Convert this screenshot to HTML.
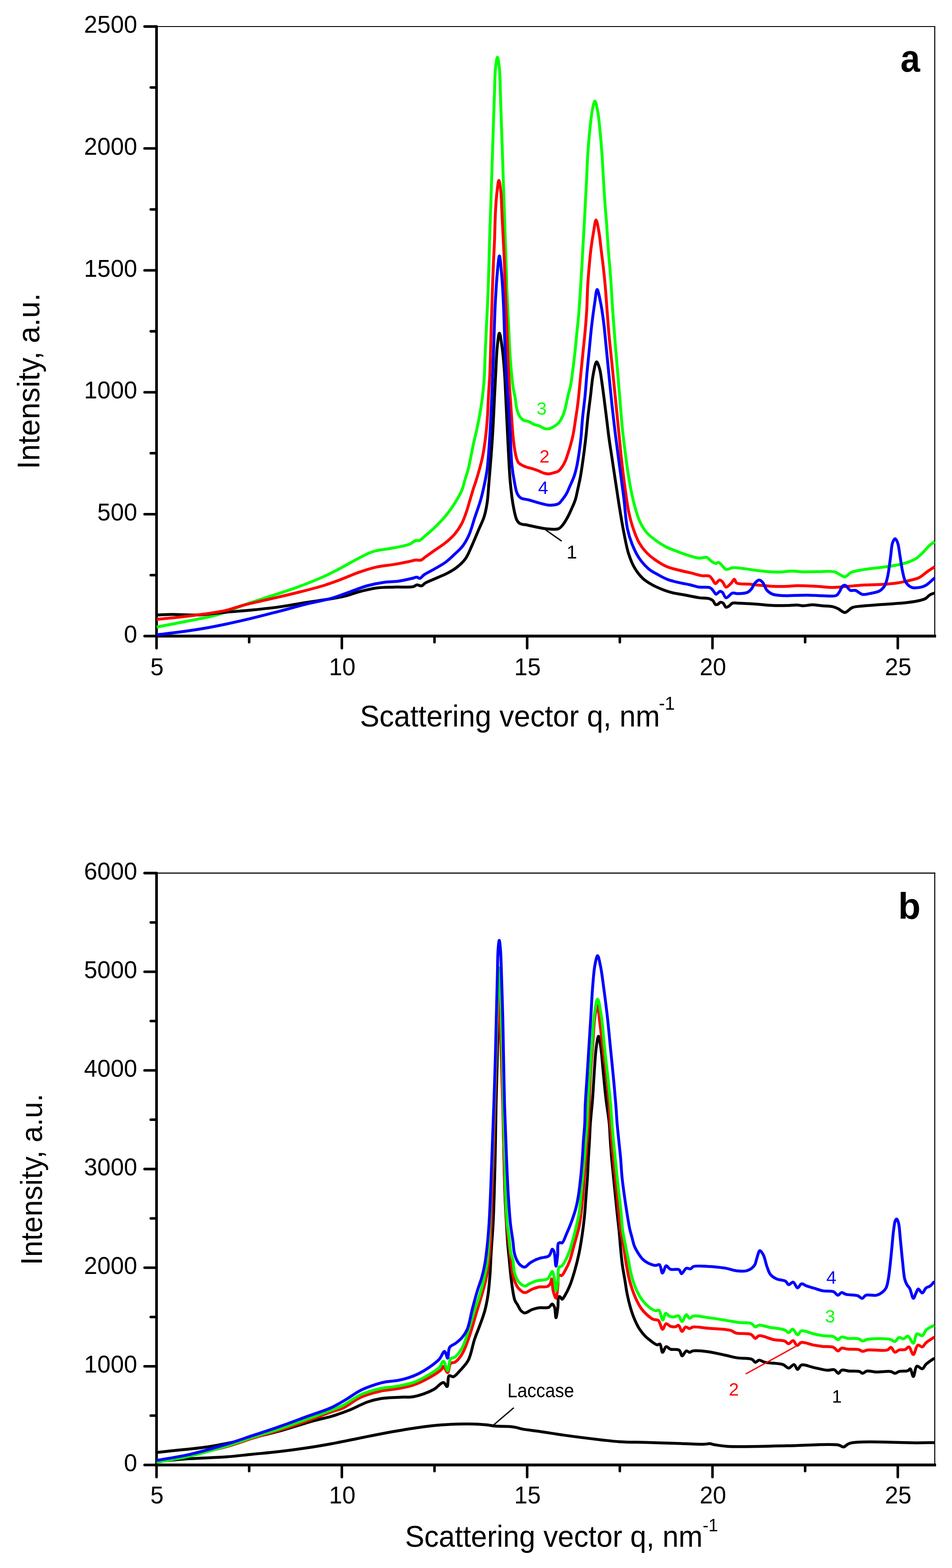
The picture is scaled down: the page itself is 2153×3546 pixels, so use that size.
<!DOCTYPE html>
<html><head><meta charset="utf-8"><title>Scattering plots</title>
<style>html,body{margin:0;padding:0;background:#fff;}svg{display:block;}</style>
</head><body>
<svg width="2153" height="3546" viewBox="0 0 2153 3546" font-family="'Liberation Sans', sans-serif">
<rect width="2153" height="3546" fill="#fff"/>
<line x1="354.0" y1="60.0" x2="2115.2" y2="60.0" stroke="#000" stroke-width="2.2"/>
<line x1="2114.0" y1="58.9" x2="2114.0" y2="1438.5" stroke="#000" stroke-width="2.3"/>
<line x1="354.0" y1="58.0" x2="354.0" y2="1441.5" stroke="#000" stroke-width="6"/>
<line x1="351.0" y1="1438.5" x2="2117.0" y2="1438.5" stroke="#000" stroke-width="6.4"/>
<line x1="327.0" y1="1438.50" x2="354.0" y2="1438.50" stroke="#000" stroke-width="5.8" stroke-linecap="round"/>
<text transform="translate(310.20,1452.80) scale(1.0000,1.0230)" font-size="54.0" text-anchor="end">0</text>
<line x1="341.0" y1="1300.65" x2="354.0" y2="1300.65" stroke="#000" stroke-width="5.8" stroke-linecap="round"/>
<line x1="327.0" y1="1162.80" x2="354.0" y2="1162.80" stroke="#000" stroke-width="5.8" stroke-linecap="round"/>
<text transform="translate(310.20,1177.10) scale(1.0000,1.0230)" font-size="54.0" text-anchor="end">500</text>
<line x1="341.0" y1="1024.95" x2="354.0" y2="1024.95" stroke="#000" stroke-width="5.8" stroke-linecap="round"/>
<line x1="327.0" y1="887.10" x2="354.0" y2="887.10" stroke="#000" stroke-width="5.8" stroke-linecap="round"/>
<text transform="translate(310.20,901.40) scale(1.0000,1.0230)" font-size="54.0" text-anchor="end">1000</text>
<line x1="341.0" y1="749.25" x2="354.0" y2="749.25" stroke="#000" stroke-width="5.8" stroke-linecap="round"/>
<line x1="327.0" y1="611.40" x2="354.0" y2="611.40" stroke="#000" stroke-width="5.8" stroke-linecap="round"/>
<text transform="translate(310.20,625.70) scale(1.0000,1.0230)" font-size="54.0" text-anchor="end">1500</text>
<line x1="341.0" y1="473.55" x2="354.0" y2="473.55" stroke="#000" stroke-width="5.8" stroke-linecap="round"/>
<line x1="327.0" y1="335.70" x2="354.0" y2="335.70" stroke="#000" stroke-width="5.8" stroke-linecap="round"/>
<text transform="translate(310.20,350.00) scale(1.0000,1.0230)" font-size="54.0" text-anchor="end">2000</text>
<line x1="341.0" y1="197.85" x2="354.0" y2="197.85" stroke="#000" stroke-width="5.8" stroke-linecap="round"/>
<line x1="327.0" y1="60.00" x2="354.0" y2="60.00" stroke="#000" stroke-width="5.8" stroke-linecap="round"/>
<text transform="translate(310.20,74.30) scale(1.0000,1.0230)" font-size="54.0" text-anchor="end">2500</text>
<line x1="354.00" y1="1438.5" x2="354.00" y2="1465.8" stroke="#000" stroke-width="5.8" stroke-linecap="round"/>
<text transform="translate(354.90,1526.80) scale(1.0000,1.0230)" font-size="54.0" text-anchor="middle">5</text>
<line x1="563.55" y1="1438.5" x2="563.55" y2="1452.3" stroke="#000" stroke-width="5.8" stroke-linecap="round"/>
<line x1="773.10" y1="1438.5" x2="773.10" y2="1465.8" stroke="#000" stroke-width="5.8" stroke-linecap="round"/>
<text transform="translate(774.00,1526.80) scale(1.0000,1.0230)" font-size="54.0" text-anchor="middle">10</text>
<line x1="982.65" y1="1438.5" x2="982.65" y2="1452.3" stroke="#000" stroke-width="5.8" stroke-linecap="round"/>
<line x1="1192.20" y1="1438.5" x2="1192.20" y2="1465.8" stroke="#000" stroke-width="5.8" stroke-linecap="round"/>
<text transform="translate(1193.10,1526.80) scale(1.0000,1.0230)" font-size="54.0" text-anchor="middle">15</text>
<line x1="1401.75" y1="1438.5" x2="1401.75" y2="1452.3" stroke="#000" stroke-width="5.8" stroke-linecap="round"/>
<line x1="1611.30" y1="1438.5" x2="1611.30" y2="1465.8" stroke="#000" stroke-width="5.8" stroke-linecap="round"/>
<text transform="translate(1612.20,1526.80) scale(1.0000,1.0230)" font-size="54.0" text-anchor="middle">20</text>
<line x1="1820.85" y1="1438.5" x2="1820.85" y2="1452.3" stroke="#000" stroke-width="5.8" stroke-linecap="round"/>
<line x1="2030.40" y1="1438.5" x2="2030.40" y2="1465.8" stroke="#000" stroke-width="5.8" stroke-linecap="round"/>
<text transform="translate(2031.30,1526.80) scale(1.0000,1.0230)" font-size="54.0" text-anchor="middle">25</text>
<path fill="none" stroke="#00ff00" stroke-width="6.5" stroke-linejoin="round" stroke-linecap="butt" d="M354.00,1418.00 C379.33,1413.17 406.14,1408.30 430.00,1403.50 C451.31,1399.21 470.49,1396.43 490.40,1390.70 C510.69,1384.86 530.49,1375.64 550.60,1368.60 C570.59,1361.61 590.66,1355.28 610.70,1348.60 C630.76,1341.91 650.95,1335.82 670.90,1328.50 C691.05,1321.10 713.15,1312.43 731.00,1304.40 C745.84,1297.73 757.71,1291.36 771.00,1284.40 C784.48,1277.34 798.52,1268.74 811.30,1262.30 C822.50,1256.65 831.86,1251.13 843.40,1247.50 C855.79,1243.60 873.06,1242.22 883.50,1240.30 C890.20,1239.07 893.86,1238.55 900.00,1237.20 C907.86,1235.48 919.49,1233.48 926.70,1230.50 C932.13,1228.26 936.07,1223.61 940.10,1222.50 C942.99,1221.70 945.28,1223.49 948.10,1222.50 C952.23,1221.05 956.70,1215.78 961.50,1211.80 C967.26,1207.03 973.57,1202.00 980.20,1195.70 C988.51,1187.80 998.88,1177.36 1007.00,1167.60 C1014.86,1158.17 1021.97,1148.20 1028.30,1138.20 C1034.38,1128.59 1040.31,1118.58 1044.40,1108.80 C1048.13,1099.88 1049.90,1090.25 1052.40,1082.10 C1054.52,1075.19 1056.50,1070.15 1058.40,1063.00 C1060.76,1054.09 1062.88,1042.75 1065.00,1032.60 C1067.12,1022.45 1068.90,1012.24 1071.10,1002.10 C1073.30,991.94 1076.00,981.85 1078.20,971.70 C1080.40,961.58 1082.45,951.45 1084.30,941.30 C1086.15,931.18 1087.87,921.06 1089.30,910.90 C1090.73,900.76 1091.88,890.57 1092.90,880.40 C1093.91,870.27 1094.76,860.81 1095.40,850.00 C1096.12,837.68 1096.17,825.90 1096.80,810.40 C1097.70,788.33 1099.27,756.93 1100.50,730.20 C1101.73,703.47 1103.15,678.45 1104.20,650.00 C1105.40,617.68 1106.14,577.17 1107.10,546.40 C1107.87,521.67 1108.65,501.81 1109.40,479.50 C1110.15,457.18 1110.87,434.83 1111.60,412.50 C1112.33,390.17 1113.07,367.82 1113.80,345.50 C1114.53,323.19 1115.25,300.91 1116.00,278.60 C1116.75,256.27 1117.51,232.91 1118.30,211.60 C1119.02,192.15 1118.92,170.90 1120.50,155.80 C1121.59,145.36 1123.50,129.50 1125.00,129.50 C1126.50,129.50 1128.41,145.36 1129.50,155.80 C1131.08,170.90 1131.00,192.15 1131.70,211.60 C1132.47,232.91 1133.15,256.28 1133.90,278.60 C1134.65,300.91 1135.45,323.19 1136.20,345.50 C1136.95,367.82 1137.67,390.17 1138.40,412.50 C1139.13,434.83 1139.85,457.18 1140.60,479.50 C1141.35,501.81 1142.15,524.09 1142.90,546.40 C1143.65,568.72 1144.53,594.42 1145.10,613.40 C1145.52,627.43 1145.55,635.44 1146.10,650.00 C1146.92,671.56 1148.68,703.47 1150.00,730.20 C1151.32,756.93 1152.09,784.90 1154.00,810.40 C1155.75,833.73 1158.26,860.93 1160.70,877.30 C1162.13,886.91 1163.86,892.22 1165.20,900.00 C1166.61,908.16 1166.95,917.81 1168.90,925.20 C1170.51,931.32 1172.35,937.13 1175.20,941.50 C1177.60,945.19 1180.68,948.42 1184.00,950.30 C1187.04,952.02 1190.48,951.46 1194.10,952.80 C1198.72,954.51 1204.50,958.61 1209.20,960.40 C1213.02,961.86 1216.36,961.92 1220.00,963.30 C1224.02,964.83 1228.01,968.52 1232.20,969.40 C1236.16,970.23 1240.47,969.92 1244.40,968.80 C1248.58,967.61 1253.07,964.45 1256.50,962.10 C1259.35,960.15 1261.56,958.61 1263.80,956.00 C1266.55,952.80 1269.03,948.24 1271.20,943.80 C1273.56,938.97 1275.31,934.32 1277.20,928.00 C1279.89,919.00 1282.22,904.71 1284.60,894.60 C1286.59,886.15 1288.85,879.16 1290.40,871.40 C1291.94,863.73 1292.65,857.33 1293.90,848.30 C1295.67,835.53 1297.97,817.44 1299.70,802.00 C1301.43,786.58 1302.77,771.13 1304.30,755.70 C1305.83,740.27 1307.43,727.10 1308.90,709.40 C1310.87,685.69 1312.90,651.69 1314.50,626.10 C1315.86,604.24 1316.85,585.58 1318.00,565.30 C1319.15,545.01 1320.34,523.77 1321.40,504.40 C1322.36,486.73 1323.22,470.61 1324.10,453.70 C1324.98,436.78 1325.87,419.83 1326.70,402.90 C1327.53,385.99 1328.02,369.09 1329.10,352.20 C1330.18,335.29 1331.50,318.39 1333.20,301.50 C1334.90,284.56 1336.66,264.06 1339.30,250.70 C1341.06,241.77 1343.37,228.70 1345.40,228.70 C1347.43,228.70 1349.75,241.77 1351.50,250.70 C1354.13,264.06 1355.82,284.56 1357.50,301.50 C1359.18,318.39 1360.42,335.29 1361.60,352.20 C1362.78,369.09 1363.58,385.99 1364.60,402.90 C1365.62,419.83 1366.50,436.78 1367.70,453.70 C1368.90,470.61 1370.50,486.72 1371.80,504.40 C1373.22,523.77 1374.28,545.02 1375.80,565.30 C1377.32,585.58 1379.35,604.84 1380.90,626.10 C1382.61,649.52 1383.84,675.98 1385.50,700.00 C1387.08,722.89 1388.82,744.68 1390.60,767.00 C1392.38,789.31 1394.33,811.59 1396.20,833.90 C1398.07,856.22 1399.93,878.57 1401.80,900.90 C1403.67,923.23 1405.23,946.61 1407.40,967.90 C1409.38,987.37 1411.69,1005.11 1414.10,1023.70 C1416.52,1042.31 1418.76,1060.95 1421.90,1079.50 C1425.06,1098.15 1428.59,1118.05 1433.00,1135.30 C1436.91,1150.60 1440.90,1165.80 1446.40,1178.00 C1450.93,1188.05 1455.69,1196.45 1462.10,1204.00 C1468.40,1211.41 1476.76,1217.39 1484.40,1223.00 C1491.65,1228.32 1499.09,1233.11 1506.70,1237.00 C1513.97,1240.71 1521.94,1243.23 1529.00,1246.00 C1535.34,1248.49 1540.03,1250.60 1547.10,1252.90 C1556.74,1256.03 1572.37,1261.61 1581.80,1262.30 C1588.13,1262.77 1593.31,1259.08 1597.90,1260.40 C1602.12,1261.61 1604.90,1266.64 1608.60,1269.00 C1612.05,1271.20 1616.35,1274.29 1619.30,1274.30 C1621.37,1274.30 1622.73,1271.48 1624.60,1271.70 C1627.08,1271.99 1629.89,1275.83 1632.60,1278.30 C1635.67,1281.09 1638.08,1286.62 1642.00,1287.70 C1646.36,1288.91 1652.16,1284.15 1658.00,1283.70 C1664.87,1283.17 1672.07,1284.82 1680.70,1285.80 C1692.21,1287.10 1707.49,1289.85 1720.90,1291.20 C1734.25,1292.54 1748.56,1293.99 1761.00,1293.90 C1771.84,1293.82 1782.00,1291.41 1791.40,1291.40 C1799.52,1291.39 1805.76,1292.93 1814.10,1293.20 C1824.31,1293.53 1836.48,1292.71 1848.20,1292.70 C1860.67,1292.69 1877.38,1290.93 1886.80,1293.20 C1892.73,1294.63 1896.25,1298.01 1900.50,1300.00 C1904.13,1301.70 1907.09,1304.84 1910.70,1304.50 C1915.29,1304.07 1919.64,1296.88 1925.50,1294.30 C1932.50,1291.22 1941.49,1290.22 1950.50,1288.60 C1960.92,1286.73 1973.16,1285.62 1984.50,1284.10 C1995.86,1282.58 2007.89,1281.32 2018.60,1279.50 C2028.24,1277.86 2037.12,1276.58 2045.90,1273.90 C2054.55,1271.26 2063.79,1267.95 2070.90,1263.60 C2077.15,1259.77 2081.63,1254.94 2086.80,1250.00 C2092.25,1244.79 2097.63,1237.42 2102.70,1233.00 C2106.61,1229.59 2110.23,1227.67 2114.00,1225.00"/>
<path fill="none" stroke="#000" stroke-width="6.5" stroke-linejoin="round" stroke-linecap="butt" d="M354.00,1390.70 C366.00,1390.30 376.47,1389.59 390.00,1389.50 C407.46,1389.38 430.02,1391.50 450.00,1390.70 C470.02,1389.90 489.94,1386.58 510.00,1384.70 C530.14,1382.81 550.45,1381.42 570.60,1379.40 C590.71,1377.38 610.77,1375.39 630.80,1372.60 C650.90,1369.80 670.94,1365.74 691.00,1362.60 C711.00,1359.47 734.15,1356.72 751.00,1353.80 C763.36,1351.66 772.76,1350.04 783.00,1347.40 C792.72,1344.89 800.77,1341.25 811.00,1338.50 C823.08,1335.26 837.55,1331.50 851.00,1329.70 C864.38,1327.91 877.77,1328.20 891.50,1327.70 C905.69,1327.19 926.26,1328.82 934.80,1326.70 C938.68,1325.74 939.87,1323.08 942.80,1322.70 C946.04,1322.27 950.34,1325.63 953.50,1324.90 C956.54,1324.19 957.95,1320.82 961.50,1318.70 C967.23,1315.28 977.37,1311.68 985.60,1308.00 C994.28,1304.12 1004.03,1300.42 1012.30,1296.00 C1019.98,1291.90 1027.08,1287.87 1033.70,1282.60 C1040.47,1277.21 1047.15,1271.17 1052.40,1263.90 C1057.98,1256.17 1061.29,1246.93 1065.80,1237.20 C1071.07,1225.83 1076.73,1211.72 1081.80,1199.70 C1086.49,1188.59 1091.83,1178.45 1095.20,1167.60 C1098.47,1157.08 1100.20,1147.06 1101.90,1135.60 C1103.83,1122.56 1104.50,1106.32 1105.60,1093.40 C1106.53,1082.44 1107.27,1073.13 1108.10,1063.00 C1108.93,1052.87 1109.71,1044.48 1110.60,1032.60 C1111.86,1015.79 1113.52,992.00 1114.70,971.70 C1115.88,951.43 1116.68,931.17 1117.70,910.90 C1118.72,890.61 1119.68,870.73 1120.80,850.00 C1121.97,828.37 1122.68,801.47 1124.60,783.70 C1125.90,771.64 1127.62,753.53 1129.40,753.50 C1131.19,753.47 1133.60,772.16 1135.30,783.70 C1137.54,798.96 1139.13,817.55 1140.60,837.20 C1142.40,861.22 1143.50,893.36 1144.70,917.40 C1145.68,937.03 1146.33,951.33 1147.30,970.90 C1148.48,994.70 1150.01,1028.09 1151.30,1050.00 C1152.22,1065.59 1152.63,1075.71 1154.00,1090.00 C1155.59,1106.58 1157.81,1128.09 1160.70,1143.60 C1162.96,1155.74 1165.19,1168.81 1168.70,1175.70 C1170.67,1179.57 1172.16,1181.75 1175.40,1183.70 C1179.77,1186.34 1186.61,1186.17 1194.00,1187.70 C1204.84,1189.94 1221.91,1194.44 1234.20,1195.70 C1244.43,1196.74 1255.90,1198.37 1262.60,1195.90 C1267.13,1194.23 1269.29,1190.99 1272.40,1187.40 C1276.28,1182.92 1279.94,1176.46 1283.30,1170.40 C1286.88,1163.95 1290.07,1156.55 1293.10,1149.70 C1296.02,1143.09 1298.93,1137.12 1301.20,1130.00 C1303.74,1122.03 1305.30,1112.53 1307.20,1104.00 C1309.03,1095.77 1310.68,1089.12 1312.40,1079.70 C1314.76,1066.76 1317.28,1048.85 1319.40,1033.40 C1321.51,1017.98 1323.37,1002.53 1325.10,987.10 C1326.83,971.70 1328.05,956.30 1329.80,940.90 C1331.55,925.46 1333.68,910.03 1335.60,894.60 C1337.52,879.17 1338.65,861.98 1341.30,848.30 C1343.46,837.14 1346.43,818.51 1349.30,818.30 C1351.42,818.15 1354.15,827.58 1356.00,833.90 C1358.62,842.83 1359.92,856.22 1361.60,867.40 C1363.28,878.55 1364.54,888.93 1366.10,900.90 C1367.89,914.70 1369.85,930.62 1371.70,945.50 C1373.55,960.39 1375.17,975.32 1377.20,990.20 C1379.23,1005.09 1381.67,1019.92 1383.90,1034.80 C1386.13,1049.69 1388.37,1064.61 1390.60,1079.50 C1392.83,1094.38 1395.13,1110.04 1397.30,1124.10 C1399.25,1136.72 1400.90,1147.47 1403.00,1160.00 C1405.32,1173.81 1407.74,1188.67 1410.70,1203.50 C1413.83,1219.16 1416.88,1237.36 1421.40,1251.60 C1425.20,1263.57 1429.20,1274.10 1434.80,1283.70 C1440.04,1292.69 1446.49,1301.18 1453.50,1307.80 C1459.97,1313.91 1467.16,1318.15 1474.90,1322.50 C1483.12,1327.12 1493.41,1331.38 1501.60,1334.50 C1508.31,1337.05 1513.45,1338.71 1520.30,1340.40 C1528.37,1342.39 1537.60,1343.43 1547.10,1345.20 C1557.93,1347.21 1571.59,1350.49 1581.80,1351.90 C1589.76,1353.00 1597.64,1352.09 1603.20,1353.70 C1607.11,1354.83 1610.13,1356.32 1612.60,1358.60 C1615.00,1360.82 1615.74,1366.03 1617.90,1367.10 C1619.49,1367.89 1621.54,1367.28 1623.30,1366.60 C1625.39,1365.79 1627.29,1362.36 1629.40,1362.00 C1631.30,1361.68 1633.47,1362.56 1635.30,1363.90 C1637.79,1365.72 1639.44,1372.55 1642.00,1373.30 C1644.03,1373.89 1646.47,1371.94 1648.70,1370.60 C1651.38,1369.00 1653.61,1365.02 1656.70,1363.90 C1659.83,1362.76 1662.70,1363.78 1667.40,1363.90 C1676.51,1364.14 1694.14,1365.10 1707.50,1366.00 C1720.87,1366.90 1734.94,1368.78 1747.60,1369.30 C1758.97,1369.77 1770.16,1369.54 1780.00,1369.30 C1788.24,1369.10 1796.09,1367.93 1802.70,1368.20 C1807.85,1368.41 1811.38,1369.95 1816.40,1370.00 C1822.52,1370.06 1829.82,1367.74 1836.80,1367.70 C1844.16,1367.66 1851.75,1369.25 1859.50,1370.00 C1867.63,1370.79 1877.87,1370.72 1884.50,1372.30 C1889.13,1373.40 1891.92,1374.90 1895.90,1376.80 C1900.59,1379.04 1905.65,1385.38 1910.70,1385.20 C1916.23,1385.01 1921.31,1376.36 1927.70,1373.90 C1934.49,1371.29 1942.13,1371.47 1950.50,1370.50 C1960.69,1369.32 1973.15,1368.53 1984.50,1367.70 C1995.85,1366.87 2007.24,1366.37 2018.60,1365.50 C2029.97,1364.63 2041.99,1363.85 2052.70,1362.50 C2062.33,1361.28 2072.53,1359.87 2080.00,1358.00 C2085.38,1356.66 2089.70,1355.63 2093.60,1353.40 C2097.17,1351.35 2099.31,1347.58 2102.70,1345.50 C2106.11,1343.41 2110.23,1342.43 2114.00,1340.90"/>
<path fill="none" stroke="#ff0000" stroke-width="6.5" stroke-linejoin="round" stroke-linecap="butt" d="M354.00,1400.70 C379.33,1398.03 404.38,1395.98 430.00,1392.70 C456.36,1389.32 487.95,1385.50 510.00,1380.60 C525.95,1377.05 535.68,1372.54 550.60,1368.60 C568.61,1363.84 590.66,1359.28 610.70,1354.60 C630.76,1349.91 650.88,1345.51 670.90,1340.50 C690.98,1335.48 713.10,1330.03 731.00,1324.50 C745.79,1319.93 757.69,1315.39 771.00,1310.40 C784.46,1305.36 797.78,1299.10 811.30,1294.40 C824.58,1289.79 837.93,1285.41 851.40,1282.40 C864.66,1279.44 878.90,1278.54 891.50,1276.40 C902.81,1274.48 914.68,1272.15 923.60,1270.30 C930.02,1268.97 935.01,1267.16 940.10,1266.60 C944.39,1266.12 948.51,1267.75 952.10,1266.60 C955.62,1265.47 957.84,1262.52 961.50,1259.90 C966.67,1256.20 973.39,1251.31 980.20,1246.50 C988.32,1240.76 998.80,1234.45 1007.00,1227.80 C1014.75,1221.51 1022.06,1215.17 1028.30,1207.80 C1034.52,1200.46 1039.94,1192.19 1044.40,1183.70 C1048.84,1175.25 1051.87,1165.97 1055.00,1157.00 C1058.09,1148.14 1060.41,1139.13 1063.10,1130.20 C1065.78,1121.29 1068.92,1110.26 1071.10,1103.50 C1072.45,1099.31 1073.21,1097.69 1074.60,1093.40 C1077.00,1086.01 1080.99,1073.17 1083.80,1063.00 C1086.59,1052.90 1089.30,1042.79 1091.40,1032.60 C1093.49,1022.48 1094.96,1012.27 1096.40,1002.10 C1097.83,991.97 1098.98,981.84 1100.00,971.70 C1101.02,961.58 1101.83,951.44 1102.50,941.30 C1103.17,931.17 1103.48,921.04 1104.00,910.90 C1104.52,900.74 1105.00,890.56 1105.60,880.40 C1106.20,870.26 1106.95,863.49 1107.60,850.00 C1108.88,823.25 1110.08,766.14 1111.20,730.20 C1112.12,700.79 1112.92,674.68 1113.80,650.00 C1114.56,628.83 1115.29,609.29 1116.10,591.00 C1116.80,575.09 1117.63,562.77 1118.30,546.40 C1119.12,526.36 1119.41,499.55 1120.50,479.50 C1121.39,463.09 1122.34,447.78 1123.90,434.80 C1125.11,424.70 1126.82,408.00 1128.30,408.00 C1129.78,408.00 1131.71,424.69 1132.80,434.80 C1134.20,447.77 1134.18,463.10 1135.00,479.50 C1136.00,499.56 1137.40,526.35 1138.40,546.40 C1139.22,562.77 1139.95,575.09 1140.60,591.00 C1141.35,609.29 1141.70,628.83 1142.50,650.00 C1143.44,674.69 1144.84,701.54 1146.00,730.20 C1147.34,763.30 1148.29,804.11 1150.00,837.20 C1151.48,865.87 1153.40,890.69 1155.30,917.40 C1157.20,944.09 1158.79,975.95 1161.40,997.40 C1163.17,1011.97 1165.02,1025.08 1167.50,1033.90 C1168.98,1039.16 1169.76,1042.85 1172.40,1046.10 C1175.03,1049.35 1179.65,1051.52 1183.30,1053.40 C1186.56,1055.08 1189.81,1056.04 1193.10,1057.10 C1196.34,1058.14 1199.30,1058.62 1202.90,1059.70 C1207.41,1061.06 1213.32,1062.99 1218.00,1064.80 C1222.19,1066.42 1225.79,1068.75 1229.70,1069.90 C1233.36,1070.98 1236.86,1071.81 1240.70,1071.70 C1244.96,1071.58 1250.17,1069.85 1254.10,1068.70 C1257.29,1067.77 1259.97,1067.39 1262.60,1065.60 C1265.75,1063.45 1268.63,1059.56 1271.20,1055.90 C1273.99,1051.93 1276.35,1047.33 1278.50,1042.50 C1280.84,1037.23 1282.65,1031.00 1284.50,1025.40 C1286.27,1020.05 1287.82,1015.08 1289.40,1009.60 C1291.09,1003.74 1292.88,997.42 1294.30,991.30 C1295.71,985.25 1296.76,979.62 1297.90,973.10 C1299.21,965.58 1300.37,956.82 1301.60,948.70 C1302.83,940.59 1304.18,932.52 1305.30,924.40 C1306.42,916.28 1307.28,909.32 1308.30,900.00 C1309.66,887.55 1310.98,871.76 1312.50,856.30 C1314.22,838.81 1316.23,819.02 1318.10,800.40 C1319.97,781.79 1322.17,762.17 1323.70,744.60 C1325.07,728.91 1326.12,715.56 1327.00,700.00 C1327.96,682.96 1328.14,663.02 1329.10,646.40 C1329.94,631.92 1331.02,619.32 1332.20,605.80 C1333.38,592.29 1334.52,578.79 1336.20,565.30 C1337.89,551.75 1340.12,536.85 1342.30,524.70 C1344.10,514.70 1345.97,497.53 1348.00,497.50 C1350.04,497.47 1352.68,514.67 1354.50,524.70 C1356.70,536.83 1357.92,551.77 1359.60,565.30 C1361.28,578.81 1363.08,592.28 1364.60,605.80 C1366.12,619.32 1367.42,631.92 1368.70,646.40 C1370.17,663.02 1371.40,681.95 1372.80,700.00 C1374.23,718.41 1375.53,737.21 1377.20,755.80 C1378.87,774.41 1380.93,793.00 1382.80,811.60 C1384.67,830.20 1386.53,848.80 1388.40,867.40 C1390.27,886.00 1392.13,904.60 1394.00,923.20 C1395.87,941.80 1397.75,960.40 1399.60,979.00 C1401.45,997.60 1403.07,1016.21 1405.10,1034.80 C1407.13,1053.41 1409.17,1071.17 1411.80,1090.60 C1414.69,1111.93 1417.91,1138.52 1421.90,1157.60 C1424.94,1172.12 1428.00,1183.53 1432.10,1195.50 C1435.95,1206.75 1440.18,1218.19 1445.50,1227.50 C1450.17,1235.67 1455.58,1242.56 1461.50,1248.90 C1467.19,1255.00 1473.16,1259.93 1480.20,1265.00 C1488.12,1270.71 1497.82,1276.96 1507.00,1281.00 C1515.68,1284.82 1524.76,1286.63 1533.70,1289.00 C1542.56,1291.35 1551.50,1293.05 1560.40,1295.20 C1569.33,1297.35 1579.19,1300.68 1587.20,1301.90 C1593.55,1302.87 1600.34,1300.89 1604.50,1302.90 C1607.67,1304.43 1609.04,1307.70 1611.20,1310.40 C1613.52,1313.30 1615.27,1319.47 1617.90,1319.80 C1620.61,1320.14 1624.35,1312.05 1627.30,1311.80 C1629.65,1311.60 1631.88,1313.78 1634.00,1315.80 C1636.88,1318.54 1638.73,1327.28 1642.00,1327.80 C1645.36,1328.34 1650.73,1321.66 1654.00,1318.40 C1656.75,1315.65 1658.67,1309.79 1660.70,1309.90 C1662.65,1310.01 1662.81,1316.42 1666.00,1318.40 C1671.36,1321.72 1684.85,1320.19 1694.10,1321.10 C1703.14,1321.99 1711.97,1323.00 1720.90,1323.80 C1729.80,1324.60 1738.26,1325.50 1747.60,1325.90 C1757.87,1326.34 1770.16,1326.42 1780.00,1326.10 C1788.24,1325.84 1793.83,1324.66 1802.70,1324.50 C1815.25,1324.28 1834.13,1325.38 1848.20,1326.10 C1860.39,1326.73 1870.93,1328.40 1882.30,1328.40 C1893.67,1328.40 1905.04,1326.97 1916.40,1326.10 C1927.77,1325.23 1938.31,1323.93 1950.50,1323.20 C1964.54,1322.36 1981.86,1322.55 1995.90,1321.60 C2008.09,1320.78 2019.82,1319.73 2030.00,1318.20 C2038.37,1316.94 2044.98,1315.43 2052.70,1313.60 C2060.86,1311.66 2070.08,1310.44 2077.70,1306.80 C2085.23,1303.21 2091.76,1296.40 2098.20,1292.00 C2103.76,1288.20 2108.73,1285.20 2114.00,1281.80"/>
<path fill="none" stroke="#0000ff" stroke-width="6.5" stroke-linejoin="round" stroke-linecap="butt" d="M354.00,1435.50 C372.67,1433.27 391.01,1431.40 410.00,1428.80 C429.75,1426.10 448.82,1423.40 470.30,1419.50 C495.21,1414.98 523.90,1408.84 550.60,1402.70 C577.40,1396.54 606.00,1389.00 630.80,1382.60 C652.32,1377.04 670.91,1371.61 691.00,1366.60 C710.98,1361.62 733.12,1357.80 751.00,1352.60 C765.87,1348.27 777.81,1343.19 791.20,1338.50 C804.57,1333.82 817.80,1328.18 831.30,1324.50 C844.57,1320.88 859.20,1318.15 871.50,1316.50 C881.77,1315.12 890.27,1315.82 900.00,1314.50 C910.40,1313.08 924.18,1309.77 932.00,1308.00 C936.57,1306.97 939.66,1305.08 942.80,1305.30 C945.33,1305.48 947.20,1308.38 949.50,1308.00 C952.49,1307.51 954.89,1302.73 958.80,1300.00 C964.32,1296.13 972.70,1292.34 980.20,1288.00 C988.66,1283.10 998.83,1277.97 1007.00,1272.00 C1014.79,1266.31 1021.65,1259.45 1028.30,1253.20 C1034.49,1247.38 1040.53,1242.53 1045.70,1235.80 C1051.35,1228.45 1056.04,1220.08 1060.40,1210.40 C1065.64,1198.78 1069.33,1183.67 1073.80,1170.30 C1078.27,1156.93 1083.45,1143.36 1087.20,1130.20 C1090.74,1117.75 1093.44,1105.11 1095.90,1093.40 C1098.13,1082.81 1100.06,1073.16 1101.50,1063.00 C1102.93,1052.90 1103.51,1044.48 1104.50,1032.60 C1105.89,1015.80 1107.42,992.00 1108.60,971.70 C1109.78,951.43 1110.67,931.18 1111.60,910.90 C1112.53,890.61 1113.38,870.73 1114.20,850.00 C1115.05,828.37 1115.79,806.85 1116.60,783.70 C1117.49,758.24 1118.24,727.53 1119.30,703.50 C1120.16,683.86 1121.15,666.14 1122.20,650.00 C1123.07,636.64 1123.76,625.42 1125.00,613.40 C1126.21,601.66 1128.02,578.70 1129.50,578.70 C1130.98,578.70 1132.72,601.66 1133.90,613.40 C1135.10,625.42 1135.77,636.64 1136.60,650.00 C1137.60,666.14 1138.47,683.86 1139.30,703.50 C1140.31,727.53 1140.88,756.97 1142.00,783.70 C1143.12,810.44 1144.50,839.87 1146.00,863.90 C1147.22,883.54 1148.73,898.57 1150.00,917.40 C1151.42,938.43 1152.75,962.02 1154.00,984.20 C1155.24,1006.21 1155.58,1030.82 1157.50,1050.00 C1159.00,1065.02 1161.05,1078.05 1163.40,1090.00 C1165.34,1099.88 1166.73,1110.41 1170.00,1116.80 C1172.19,1121.07 1174.43,1123.98 1178.00,1126.20 C1182.13,1128.76 1187.31,1128.48 1194.00,1130.20 C1205.32,1133.10 1228.57,1140.93 1239.60,1142.20 C1245.72,1142.91 1249.80,1142.53 1254.10,1141.80 C1257.71,1141.19 1260.89,1140.59 1263.80,1138.70 C1267.08,1136.56 1269.64,1132.51 1272.40,1129.00 C1275.36,1125.25 1278.35,1121.26 1280.90,1116.80 C1283.67,1111.96 1285.60,1106.79 1288.20,1100.90 C1291.41,1093.63 1295.82,1084.52 1298.60,1076.40 C1301.21,1068.76 1302.93,1061.23 1304.60,1053.60 C1306.25,1046.06 1307.42,1038.48 1308.60,1030.90 C1309.78,1023.34 1310.75,1015.77 1311.70,1008.20 C1312.65,1000.64 1313.58,993.08 1314.30,985.50 C1315.02,977.92 1315.40,970.11 1316.00,962.70 C1316.57,955.63 1316.97,950.31 1317.80,942.00 C1319.06,929.40 1321.60,910.73 1323.20,894.50 C1324.88,877.47 1326.00,859.56 1327.60,842.10 C1329.20,824.63 1331.07,807.17 1332.80,789.70 C1334.53,772.23 1335.97,754.75 1338.00,737.30 C1340.03,719.82 1342.65,699.94 1345.00,684.90 C1346.79,673.46 1348.17,654.89 1350.40,654.80 C1352.71,654.71 1356.32,674.72 1358.70,686.30 C1361.55,700.18 1363.66,717.14 1365.60,732.60 C1367.53,748.01 1368.75,763.47 1370.30,778.90 C1371.85,794.31 1373.37,809.69 1374.90,825.10 C1376.43,840.52 1377.95,855.97 1379.50,871.40 C1381.05,886.83 1382.35,900.72 1384.20,917.70 C1386.47,938.51 1389.42,963.97 1392.30,987.10 C1395.19,1010.27 1398.42,1033.44 1401.50,1056.60 C1404.58,1079.74 1407.90,1102.85 1410.80,1126.00 C1413.70,1149.12 1414.95,1176.36 1418.90,1195.40 C1421.75,1209.13 1424.95,1219.02 1429.40,1230.20 C1433.83,1241.31 1439.04,1252.74 1445.50,1262.30 C1451.62,1271.35 1459.19,1279.97 1466.80,1286.40 C1473.53,1292.09 1480.97,1295.66 1488.20,1299.70 C1495.24,1303.64 1502.11,1307.52 1509.60,1310.40 C1517.26,1313.35 1525.42,1315.12 1533.70,1317.10 C1542.34,1319.17 1552.01,1320.61 1560.40,1322.50 C1567.95,1324.20 1574.40,1326.69 1581.80,1327.80 C1589.54,1328.96 1600.33,1326.59 1605.90,1329.10 C1609.73,1330.82 1611.55,1334.57 1613.90,1337.20 C1615.94,1339.49 1617.09,1343.60 1619.30,1343.90 C1621.85,1344.24 1625.85,1337.44 1628.60,1337.20 C1630.59,1337.03 1632.23,1338.26 1634.00,1339.80 C1636.75,1342.20 1638.53,1351.27 1642.00,1351.90 C1645.89,1352.60 1651.95,1342.43 1656.70,1341.20 C1660.36,1340.25 1663.17,1342.49 1667.40,1342.50 C1673.56,1342.51 1684.44,1342.27 1690.10,1339.80 C1694.26,1337.98 1696.73,1335.08 1699.50,1331.80 C1702.62,1328.11 1704.32,1321.85 1707.50,1318.40 C1710.22,1315.45 1713.79,1311.86 1716.80,1311.80 C1719.57,1311.75 1722.42,1314.39 1724.90,1317.10 C1728.44,1320.97 1730.16,1329.94 1734.20,1334.50 C1737.88,1338.66 1742.05,1341.78 1747.60,1343.90 C1754.72,1346.62 1765.47,1346.68 1774.30,1347.10 C1782.93,1347.51 1791.45,1346.70 1800.00,1346.50 C1808.52,1346.30 1816.39,1345.82 1825.50,1345.90 C1836.02,1345.99 1848.35,1347.19 1859.50,1347.30 C1870.30,1347.40 1885.01,1349.64 1891.40,1346.60 C1895.06,1344.86 1895.99,1341.73 1898.20,1338.60 C1900.91,1334.77 1903.16,1327.09 1906.10,1325.00 C1907.89,1323.73 1909.76,1323.28 1911.80,1323.90 C1915.20,1324.93 1919.03,1333.48 1923.20,1335.20 C1926.70,1336.64 1930.55,1334.16 1934.50,1335.20 C1939.54,1336.53 1944.80,1343.17 1950.50,1344.30 C1956.17,1345.42 1962.42,1343.23 1968.60,1342.00 C1975.27,1340.67 1983.59,1339.60 1989.10,1336.40 C1993.90,1333.61 1997.55,1329.78 2000.50,1325.00 C2003.91,1319.47 2005.32,1312.78 2007.30,1304.50 C2010.18,1292.43 2012.09,1272.89 2014.10,1259.10 C2015.78,1247.56 2015.97,1234.51 2018.60,1227.30 C2020.12,1223.13 2022.40,1218.20 2024.30,1218.20 C2026.20,1218.20 2028.39,1223.14 2030.00,1227.30 C2032.79,1234.51 2033.83,1248.31 2035.70,1259.10 C2037.63,1270.26 2039.04,1283.05 2041.40,1293.20 C2043.35,1301.60 2044.41,1309.85 2048.20,1315.90 C2051.55,1321.25 2056.47,1326.32 2061.80,1328.40 C2067.09,1330.46 2074.44,1329.30 2080.00,1328.40 C2084.93,1327.61 2088.87,1326.53 2093.60,1323.90 C2100.04,1320.31 2107.20,1312.50 2114.00,1306.80"/>
<text transform="translate(2036.60,162.00) scale(0.9600,1.0400)" font-size="83" font-weight="bold">a</text>
<text transform="translate(814.00,1642.60) scale(1.0000,1.0400)" font-size="66.0">Scattering vector q, nm</text>
<text transform="translate(1490.00,1605.10) scale(1.0000,1.0400)" font-size="40.8">-1</text>
<text transform="translate(89.00,1061.00) rotate(-90) scale(1.0000,1.0280)" font-size="67.8">Intensity, a.u.</text>
<text transform="translate(1213.40,938.40)" font-size="41" fill="#00ff00">3</text>
<text transform="translate(1219.95,1045.70)" font-size="41" fill="#ff0000">2</text>
<text transform="translate(1217.10,1117.00)" font-size="41" fill="#0000ff">4</text>
<text transform="translate(1281.20,1262.60)" font-size="43" fill="#000">1</text>
<line x1="1234.2" y1="1198.4" x2="1270.3" y2="1223.8" stroke="#000" stroke-width="3"/>
<line x1="354.0" y1="1974.5" x2="2115.2" y2="1974.5" stroke="#000" stroke-width="2.7"/>
<line x1="2114.0" y1="1973.2" x2="2114.0" y2="3313.0" stroke="#000" stroke-width="2.3"/>
<line x1="354.0" y1="1972.5" x2="354.0" y2="3316.0" stroke="#000" stroke-width="6"/>
<line x1="351.0" y1="3313.0" x2="2117.0" y2="3313.0" stroke="#000" stroke-width="6.4"/>
<line x1="327.0" y1="3313.00" x2="354.0" y2="3313.00" stroke="#000" stroke-width="5.8" stroke-linecap="round"/>
<text transform="translate(310.20,3327.30) scale(1.0000,1.0230)" font-size="54.0" text-anchor="end">0</text>
<line x1="341.0" y1="3201.46" x2="354.0" y2="3201.46" stroke="#000" stroke-width="5.8" stroke-linecap="round"/>
<line x1="327.0" y1="3089.92" x2="354.0" y2="3089.92" stroke="#000" stroke-width="5.8" stroke-linecap="round"/>
<text transform="translate(310.20,3104.22) scale(1.0000,1.0230)" font-size="54.0" text-anchor="end">1000</text>
<line x1="341.0" y1="2978.38" x2="354.0" y2="2978.38" stroke="#000" stroke-width="5.8" stroke-linecap="round"/>
<line x1="327.0" y1="2866.83" x2="354.0" y2="2866.83" stroke="#000" stroke-width="5.8" stroke-linecap="round"/>
<text transform="translate(310.20,2881.13) scale(1.0000,1.0230)" font-size="54.0" text-anchor="end">2000</text>
<line x1="341.0" y1="2755.29" x2="354.0" y2="2755.29" stroke="#000" stroke-width="5.8" stroke-linecap="round"/>
<line x1="327.0" y1="2643.75" x2="354.0" y2="2643.75" stroke="#000" stroke-width="5.8" stroke-linecap="round"/>
<text transform="translate(310.20,2658.05) scale(1.0000,1.0230)" font-size="54.0" text-anchor="end">3000</text>
<line x1="341.0" y1="2532.21" x2="354.0" y2="2532.21" stroke="#000" stroke-width="5.8" stroke-linecap="round"/>
<line x1="327.0" y1="2420.67" x2="354.0" y2="2420.67" stroke="#000" stroke-width="5.8" stroke-linecap="round"/>
<text transform="translate(310.20,2434.97) scale(1.0000,1.0230)" font-size="54.0" text-anchor="end">4000</text>
<line x1="341.0" y1="2309.12" x2="354.0" y2="2309.12" stroke="#000" stroke-width="5.8" stroke-linecap="round"/>
<line x1="327.0" y1="2197.58" x2="354.0" y2="2197.58" stroke="#000" stroke-width="5.8" stroke-linecap="round"/>
<text transform="translate(310.20,2211.88) scale(1.0000,1.0230)" font-size="54.0" text-anchor="end">5000</text>
<line x1="341.0" y1="2086.04" x2="354.0" y2="2086.04" stroke="#000" stroke-width="5.8" stroke-linecap="round"/>
<line x1="327.0" y1="1974.50" x2="354.0" y2="1974.50" stroke="#000" stroke-width="5.8" stroke-linecap="round"/>
<text transform="translate(310.20,1988.80) scale(1.0000,1.0230)" font-size="54.0" text-anchor="end">6000</text>
<line x1="354.00" y1="3313.0" x2="354.00" y2="3340.3" stroke="#000" stroke-width="5.8" stroke-linecap="round"/>
<text transform="translate(354.90,3400.10) scale(1.0000,1.0230)" font-size="54.0" text-anchor="middle">5</text>
<line x1="563.55" y1="3313.0" x2="563.55" y2="3326.8" stroke="#000" stroke-width="5.8" stroke-linecap="round"/>
<line x1="773.10" y1="3313.0" x2="773.10" y2="3340.3" stroke="#000" stroke-width="5.8" stroke-linecap="round"/>
<text transform="translate(774.00,3400.10) scale(1.0000,1.0230)" font-size="54.0" text-anchor="middle">10</text>
<line x1="982.65" y1="3313.0" x2="982.65" y2="3326.8" stroke="#000" stroke-width="5.8" stroke-linecap="round"/>
<line x1="1192.20" y1="3313.0" x2="1192.20" y2="3340.3" stroke="#000" stroke-width="5.8" stroke-linecap="round"/>
<text transform="translate(1193.10,3400.10) scale(1.0000,1.0230)" font-size="54.0" text-anchor="middle">15</text>
<line x1="1401.75" y1="3313.0" x2="1401.75" y2="3326.8" stroke="#000" stroke-width="5.8" stroke-linecap="round"/>
<line x1="1611.30" y1="3313.0" x2="1611.30" y2="3340.3" stroke="#000" stroke-width="5.8" stroke-linecap="round"/>
<text transform="translate(1612.20,3400.10) scale(1.0000,1.0230)" font-size="54.0" text-anchor="middle">20</text>
<line x1="1820.85" y1="3313.0" x2="1820.85" y2="3326.8" stroke="#000" stroke-width="5.8" stroke-linecap="round"/>
<line x1="2030.40" y1="3313.0" x2="2030.40" y2="3340.3" stroke="#000" stroke-width="5.8" stroke-linecap="round"/>
<text transform="translate(2031.30,3400.10) scale(1.0000,1.0230)" font-size="54.0" text-anchor="middle">25</text>
<path fill="none" stroke="#000" stroke-width="6.5" stroke-linejoin="round" stroke-linecap="butt" d="M354.00,3304.90 C379.40,3302.87 404.46,3300.47 430.20,3298.80 C456.58,3297.09 485.60,3296.65 510.40,3294.80 C531.92,3293.19 550.53,3290.80 570.60,3288.80 C590.67,3286.80 610.75,3285.13 630.80,3282.80 C650.89,3280.47 670.97,3277.81 691.00,3274.80 C711.07,3271.78 731.09,3268.38 751.10,3264.70 C771.19,3261.01 791.23,3256.70 811.30,3252.70 C831.37,3248.70 850.76,3244.51 871.50,3240.70 C893.57,3236.65 917.86,3232.32 940.00,3229.20 C960.68,3226.28 980.11,3223.78 1000.20,3222.30 C1020.21,3220.82 1042.29,3220.15 1060.30,3220.30 C1075.02,3220.42 1089.34,3221.26 1100.40,3222.30 C1108.26,3223.04 1112.81,3224.43 1120.50,3225.10 C1130.76,3226.00 1148.91,3225.69 1156.60,3226.40 C1160.24,3226.74 1161.49,3226.98 1164.60,3227.60 C1169.06,3228.49 1174.09,3230.32 1180.70,3231.60 C1191.03,3233.60 1206.09,3235.05 1220.80,3237.20 C1238.84,3239.84 1259.47,3243.41 1281.00,3246.40 C1305.80,3249.84 1339.04,3253.91 1361.20,3256.40 C1376.85,3258.16 1386.56,3259.47 1401.30,3260.40 C1419.32,3261.54 1440.10,3261.37 1461.50,3262.00 C1485.93,3262.71 1516.46,3263.77 1540.00,3264.50 C1559.25,3265.10 1581.03,3266.52 1592.50,3266.10 C1598.11,3265.89 1601.08,3264.58 1605.00,3264.80 C1608.54,3265.00 1610.74,3266.26 1615.00,3267.00 C1622.37,3268.28 1631.54,3270.08 1645.40,3270.90 C1674.97,3272.64 1741.16,3270.06 1785.00,3269.50 C1824.04,3269.00 1877.56,3264.65 1895.70,3267.80 C1901.87,3268.87 1903.60,3272.65 1907.70,3272.30 C1912.37,3271.90 1914.32,3266.03 1922.10,3263.90 C1945.55,3257.48 2039.43,3263.23 2073.70,3262.90 C2091.28,3262.73 2100.30,3262.57 2113.60,3262.40"/>
<path fill="none" stroke="#000" stroke-width="6.5" stroke-linejoin="round" stroke-linecap="butt" d="M354.00,3284.80 C366.03,3283.47 377.75,3282.10 390.10,3280.80 C403.11,3279.43 416.84,3278.27 430.20,3276.80 C443.57,3275.33 456.96,3274.01 470.30,3272.00 C483.70,3269.98 497.04,3267.25 510.40,3264.70 C523.80,3262.15 537.24,3259.69 550.60,3256.70 C564.01,3253.70 577.33,3250.03 590.70,3246.70 C604.07,3243.37 617.48,3240.37 630.80,3236.70 C644.21,3233.01 657.53,3228.62 670.90,3224.60 C684.26,3220.58 697.59,3216.28 711.00,3212.60 C724.32,3208.95 737.83,3206.58 751.10,3202.60 C764.56,3198.56 777.94,3193.80 791.20,3188.50 C804.68,3183.12 818.49,3174.93 831.30,3170.50 C842.42,3166.65 851.52,3164.32 863.40,3162.50 C877.75,3160.30 899.24,3160.10 911.60,3159.60 C919.31,3159.29 923.56,3160.12 930.40,3159.20 C938.89,3158.05 949.69,3155.16 958.50,3152.10 C966.79,3149.22 974.52,3145.87 981.90,3141.60 C989.32,3137.31 997.70,3125.82 1002.90,3126.40 C1006.50,3126.80 1009.04,3136.26 1011.10,3135.70 C1014.02,3134.90 1012.10,3113.58 1015.80,3111.20 C1018.11,3109.72 1021.93,3114.34 1025.20,3113.50 C1029.98,3112.27 1035.28,3104.99 1040.40,3099.50 C1046.56,3092.89 1054.00,3085.84 1059.10,3076.10 C1065.61,3063.66 1068.16,3043.95 1073.10,3029.30 C1077.57,3016.05 1083.09,3003.52 1087.20,2991.90 C1090.74,2981.90 1093.85,2973.77 1096.50,2963.80 C1099.41,2952.83 1101.71,2941.29 1103.60,2928.70 C1105.76,2914.27 1107.06,2897.08 1108.20,2881.90 C1109.28,2867.56 1109.72,2851.81 1110.40,2840.00 C1110.90,2831.34 1111.22,2826.48 1111.80,2817.50 C1112.67,2804.10 1114.26,2785.31 1115.20,2767.40 C1116.29,2746.72 1116.94,2725.05 1117.70,2700.50 C1118.64,2670.46 1119.50,2633.71 1120.20,2600.30 C1120.90,2566.88 1121.18,2533.41 1121.90,2500.00 C1122.62,2466.64 1123.70,2431.48 1124.50,2400.00 C1125.22,2371.85 1125.61,2344.75 1126.50,2320.00 C1127.27,2298.56 1128.38,2260.00 1129.30,2260.00 C1130.22,2260.00 1131.18,2298.56 1132.00,2320.00 C1132.94,2344.75 1133.61,2371.85 1134.50,2400.00 C1135.50,2431.48 1136.88,2466.64 1137.70,2500.00 C1138.52,2533.41 1138.70,2566.88 1139.40,2600.30 C1140.10,2633.71 1140.76,2670.47 1141.90,2700.50 C1142.83,2725.05 1144.09,2746.71 1145.30,2767.40 C1146.34,2785.31 1147.41,2803.03 1148.60,2817.50 C1149.51,2828.58 1150.41,2835.90 1151.50,2846.80 C1152.87,2860.58 1154.07,2878.04 1156.20,2893.60 C1158.34,2909.24 1160.63,2930.51 1164.30,2940.40 C1166.18,2945.47 1168.49,2947.36 1170.70,2951.10 C1173.11,2955.19 1175.17,2960.88 1178.20,2964.00 C1180.68,2966.56 1183.35,2969.10 1186.70,2969.30 C1191.16,2969.57 1197.35,2963.78 1202.80,2961.80 C1208.06,2959.88 1212.96,2958.40 1218.80,2957.50 C1225.61,2956.45 1236.09,2958.80 1241.30,2956.50 C1244.88,2954.92 1246.61,2948.81 1248.80,2949.00 C1250.84,2949.17 1252.76,2953.09 1254.10,2956.50 C1256.26,2961.98 1256.05,2979.97 1257.30,2980.00 C1258.55,2980.03 1260.53,2964.37 1261.60,2956.50 C1262.66,2948.67 1261.36,2935.04 1263.70,2932.90 C1264.57,2932.10 1265.95,2932.39 1267.00,2932.90 C1268.51,2933.64 1269.66,2938.32 1271.20,2938.30 C1273.12,2938.28 1275.36,2933.33 1277.60,2929.70 C1280.94,2924.27 1284.99,2916.28 1288.30,2908.30 C1292.23,2898.83 1295.64,2887.81 1299.00,2876.30 C1302.84,2863.14 1306.62,2848.38 1309.70,2833.50 C1312.99,2817.57 1315.71,2799.40 1317.90,2783.60 C1319.87,2769.40 1321.23,2756.55 1322.50,2743.00 C1323.77,2729.48 1324.48,2715.93 1325.50,2702.40 C1326.52,2688.87 1327.75,2675.34 1328.60,2661.80 C1329.45,2648.27 1329.85,2634.73 1330.60,2621.20 C1331.35,2607.66 1332.33,2594.14 1333.10,2580.60 C1333.87,2567.07 1334.17,2554.60 1335.20,2540.00 C1336.41,2522.87 1338.72,2503.65 1340.20,2484.20 C1341.82,2462.94 1342.89,2438.07 1344.40,2417.40 C1345.71,2399.47 1346.61,2380.78 1348.60,2367.20 C1349.98,2357.78 1351.93,2343.50 1353.60,2343.50 C1355.27,2343.50 1357.14,2357.79 1358.60,2367.20 C1360.70,2380.78 1361.81,2399.47 1363.60,2417.40 C1365.67,2438.08 1367.81,2462.95 1370.30,2484.20 C1372.58,2503.66 1376.12,2522.85 1377.80,2540.00 C1379.23,2554.58 1379.37,2567.07 1380.30,2580.60 C1381.23,2594.14 1382.22,2607.67 1383.40,2621.20 C1384.58,2634.74 1386.05,2648.27 1387.40,2661.80 C1388.75,2675.33 1390.13,2688.87 1391.50,2702.40 C1392.87,2715.93 1394.17,2729.47 1395.60,2743.00 C1397.03,2756.54 1398.87,2771.03 1400.10,2783.60 C1401.17,2794.49 1401.66,2802.93 1402.70,2814.10 C1403.97,2827.74 1405.42,2845.48 1407.30,2859.50 C1408.94,2871.71 1411.12,2882.23 1413.00,2893.60 C1414.88,2904.97 1416.40,2916.89 1418.60,2927.70 C1420.62,2937.64 1422.80,2946.88 1425.50,2956.10 C1428.12,2965.07 1431.01,2973.99 1434.50,2982.30 C1437.85,2990.26 1441.53,2998.18 1445.90,3005.00 C1449.95,3011.31 1454.70,3017.10 1459.50,3022.00 C1463.85,3026.43 1469.38,3030.44 1473.20,3033.40 C1475.82,3035.43 1477.66,3036.94 1480.00,3038.30 C1482.21,3039.58 1484.61,3041.25 1486.80,3041.40 C1488.76,3041.54 1490.89,3038.85 1492.50,3039.70 C1495.42,3041.24 1495.85,3057.97 1498.40,3058.30 C1500.65,3058.59 1503.24,3046.29 1506.50,3045.50 C1509.29,3044.82 1512.15,3049.78 1516.10,3051.10 C1521.41,3052.88 1531.68,3050.39 1536.10,3053.50 C1539.83,3056.12 1539.85,3065.97 1542.50,3066.30 C1545.20,3066.64 1548.93,3055.83 1552.20,3055.10 C1554.58,3054.57 1557.00,3058.30 1559.40,3058.30 C1561.80,3058.30 1563.22,3055.73 1566.60,3055.10 C1573.57,3053.79 1588.40,3055.26 1600.00,3056.70 C1612.86,3058.29 1628.10,3062.24 1640.30,3064.80 C1650.49,3066.93 1658.60,3069.40 1668.30,3070.90 C1678.59,3072.50 1693.55,3070.95 1700.40,3073.90 C1704.34,3075.59 1705.64,3080.67 1708.40,3080.90 C1711.01,3081.12 1713.34,3076.23 1716.50,3075.90 C1720.45,3075.48 1724.53,3079.48 1730.50,3080.90 C1740.34,3083.24 1761.15,3082.58 1770.60,3085.90 C1776.41,3087.94 1779.37,3093.97 1783.60,3093.90 C1787.73,3093.83 1792.32,3085.29 1795.70,3085.90 C1798.98,3086.49 1800.86,3096.75 1803.70,3096.90 C1806.53,3097.05 1808.33,3088.33 1812.70,3086.90 C1819.03,3084.82 1830.88,3090.68 1840.30,3092.60 C1850.19,3094.61 1862.10,3098.11 1870.70,3098.70 C1876.94,3099.13 1882.60,3096.18 1887.00,3097.70 C1890.80,3099.02 1893.29,3105.88 1896.10,3105.80 C1898.65,3105.73 1899.92,3099.85 1903.20,3098.70 C1907.63,3097.14 1915.09,3100.21 1921.50,3100.70 C1928.56,3101.24 1938.56,3100.17 1943.80,3101.70 C1946.97,3102.63 1948.38,3105.78 1950.90,3105.80 C1953.74,3105.82 1956.14,3101.52 1960.00,3100.70 C1965.67,3099.50 1974.24,3102.56 1982.40,3102.80 C1992.20,3103.09 2007.40,3100.26 2014.80,3101.70 C2018.92,3102.50 2020.94,3105.81 2024.00,3105.80 C2027.04,3105.79 2029.37,3102.70 2033.10,3101.70 C2038.44,3100.28 2049.04,3101.48 2053.40,3099.70 C2055.87,3098.69 2056.91,3095.19 2058.50,3095.60 C2061.19,3096.29 2063.24,3112.96 2065.60,3112.90 C2068.31,3112.83 2069.41,3091.36 2073.70,3089.60 C2076.89,3088.29 2082.49,3096.36 2085.90,3095.60 C2089.23,3094.86 2090.44,3088.91 2094.00,3085.50 C2098.84,3080.86 2106.87,3076.03 2113.30,3071.30"/>
<path fill="none" stroke="#ff0000" stroke-width="6.5" stroke-linejoin="round" stroke-linecap="butt" d="M354.00,3306.90 C406.13,3295.27 470.66,3282.78 510.40,3272.00 C535.36,3265.23 550.50,3258.93 570.60,3252.70 C590.64,3246.49 610.78,3241.03 630.80,3234.70 C650.92,3228.34 670.99,3221.62 691.00,3214.60 C711.09,3207.55 735.53,3197.94 751.10,3192.50 C760.90,3189.07 766.40,3188.55 775.20,3184.50 C787.15,3179.01 801.22,3166.76 815.30,3160.40 C829.30,3154.08 844.87,3149.76 859.40,3146.40 C873.08,3143.24 887.01,3142.87 900.00,3140.40 C912.18,3138.08 923.60,3136.17 935.10,3132.20 C947.02,3128.09 959.37,3121.99 970.20,3115.90 C980.32,3110.21 993.13,3102.31 998.30,3097.10 C1000.87,3094.51 1001.09,3090.11 1002.90,3090.10 C1005.47,3090.09 1009.68,3104.55 1012.30,3104.20 C1015.30,3103.80 1015.51,3086.60 1019.30,3083.10 C1021.80,3080.79 1025.46,3082.77 1028.70,3080.80 C1033.90,3077.64 1040.21,3069.92 1045.10,3062.00 C1051.52,3051.61 1056.46,3036.20 1061.40,3022.30 C1066.67,3007.46 1070.82,2991.10 1075.50,2975.50 C1080.18,2959.90 1085.39,2943.21 1089.50,2928.70 C1093.05,2916.19 1096.28,2906.22 1098.90,2893.60 C1101.90,2879.20 1104.15,2862.43 1105.90,2846.80 C1107.64,2831.23 1108.42,2818.54 1109.40,2800.00 C1110.83,2772.93 1111.40,2733.33 1112.50,2700.00 C1113.60,2666.67 1114.92,2633.33 1116.00,2600.00 C1117.08,2566.67 1118.00,2533.33 1119.00,2500.00 C1120.00,2466.67 1121.00,2433.33 1122.00,2400.00 C1123.00,2366.67 1123.84,2329.62 1125.00,2300.00 C1125.93,2276.29 1127.10,2236.00 1128.10,2236.00 C1129.10,2236.00 1130.11,2276.29 1131.00,2300.00 C1132.12,2329.63 1133.00,2366.67 1134.00,2400.00 C1135.00,2433.33 1136.08,2466.67 1137.00,2500.00 C1137.92,2533.33 1138.58,2566.67 1139.50,2600.00 C1140.42,2633.33 1141.27,2670.00 1142.50,2700.00 C1143.51,2724.57 1144.63,2748.59 1146.00,2767.00 C1146.96,2779.94 1147.88,2788.05 1149.20,2800.00 C1150.77,2814.25 1153.10,2832.13 1155.00,2846.80 C1156.69,2859.84 1157.82,2873.79 1160.00,2883.70 C1161.52,2890.59 1163.02,2895.71 1165.30,2900.90 C1167.37,2905.61 1169.41,2910.05 1172.80,2913.70 C1176.42,2917.60 1181.77,2922.88 1186.70,2923.30 C1191.75,2923.73 1197.38,2917.95 1202.80,2915.80 C1208.08,2913.70 1213.14,2911.58 1218.80,2910.50 C1224.86,2909.34 1233.64,2911.40 1238.10,2909.40 C1241.16,2908.03 1242.92,2905.64 1244.50,2903.00 C1246.25,2900.06 1246.78,2892.22 1247.70,2892.30 C1249.12,2892.42 1249.00,2911.19 1250.90,2919.00 C1252.47,2925.44 1255.60,2936.27 1257.30,2936.10 C1259.41,2935.88 1260.41,2917.30 1261.60,2908.30 C1262.72,2899.86 1261.33,2885.91 1264.30,2883.70 C1265.76,2882.61 1268.35,2885.56 1270.20,2884.80 C1272.92,2883.68 1275.08,2878.44 1277.60,2874.10 C1281.07,2868.11 1285.11,2860.19 1288.30,2851.70 C1292.20,2841.33 1294.89,2828.33 1298.30,2816.00 C1301.95,2802.79 1306.76,2787.81 1309.50,2774.90 C1311.89,2763.67 1312.98,2754.29 1314.40,2743.00 C1316.00,2730.30 1317.22,2715.94 1318.40,2702.40 C1319.58,2688.87 1320.48,2675.33 1321.50,2661.80 C1322.52,2648.27 1323.48,2634.73 1324.50,2621.20 C1325.52,2607.67 1326.58,2594.13 1327.60,2580.60 C1328.62,2567.07 1329.62,2556.73 1330.60,2540.00 C1332.18,2513.01 1333.35,2465.35 1335.20,2434.10 C1336.67,2409.24 1338.52,2389.49 1340.20,2367.20 C1341.88,2344.92 1342.78,2317.52 1345.30,2300.40 C1346.90,2289.52 1349.34,2273.93 1351.10,2274.00 C1353.34,2274.09 1354.92,2301.15 1357.00,2317.10 C1359.59,2336.95 1362.52,2361.71 1365.30,2384.00 C1368.08,2406.28 1371.31,2426.89 1373.70,2450.80 C1376.45,2478.35 1378.50,2516.04 1380.30,2540.00 C1381.52,2556.16 1382.22,2567.07 1383.40,2580.60 C1384.58,2594.14 1386.05,2607.67 1387.40,2621.20 C1388.75,2634.73 1390.13,2648.27 1391.50,2661.80 C1392.87,2675.33 1394.25,2688.87 1395.60,2702.40 C1396.95,2715.93 1398.25,2729.47 1399.60,2743.00 C1400.95,2756.53 1401.88,2771.07 1403.70,2783.60 C1405.29,2794.53 1407.59,2802.91 1409.50,2814.10 C1411.83,2827.71 1413.94,2845.47 1416.40,2859.50 C1418.54,2871.71 1420.67,2883.43 1423.20,2893.60 C1425.29,2902.02 1427.37,2908.87 1430.00,2916.40 C1432.66,2924.04 1435.63,2931.84 1439.10,2939.10 C1442.49,2946.19 1446.36,2953.72 1450.50,2959.50 C1454.02,2964.40 1457.59,2968.10 1461.80,2972.00 C1466.24,2976.10 1471.65,2981.09 1476.60,2983.40 C1480.65,2985.29 1485.45,2983.44 1488.80,2986.10 C1493.27,2989.66 1495.16,3006.01 1498.40,3006.20 C1501.07,3006.36 1503.26,2994.14 1506.50,2993.40 C1509.30,2992.76 1512.56,2998.26 1516.10,2999.40 C1519.74,3000.58 1524.80,3000.86 1528.10,3000.20 C1530.65,2999.69 1532.51,2996.40 1534.50,2997.00 C1537.49,2997.90 1539.65,3010.77 1542.50,3011.00 C1545.05,3011.21 1547.52,3001.79 1550.60,3001.00 C1553.25,3000.32 1556.55,3004.65 1559.40,3004.60 C1562.14,3004.55 1563.72,3001.63 1567.40,3001.00 C1574.53,2999.77 1588.01,3002.61 1600.20,3003.70 C1615.57,3005.07 1641.22,3005.52 1652.30,3008.70 C1657.91,3010.31 1659.10,3013.23 1664.30,3014.70 C1672.61,3017.05 1690.75,3014.37 1698.40,3017.70 C1703.19,3019.79 1705.18,3026.55 1708.40,3026.70 C1711.19,3026.83 1712.62,3021.44 1716.50,3020.70 C1723.75,3019.32 1740.16,3027.77 1750.60,3029.80 C1759.24,3031.48 1768.71,3030.61 1774.60,3032.80 C1778.54,3034.27 1780.52,3038.83 1783.60,3038.80 C1786.88,3038.77 1790.61,3031.37 1793.70,3031.80 C1797.02,3032.27 1799.39,3042.34 1802.70,3042.80 C1805.77,3043.22 1808.29,3036.68 1812.70,3035.80 C1819.41,3034.46 1831.78,3040.33 1840.30,3041.90 C1847.56,3043.24 1853.51,3044.09 1860.60,3044.90 C1868.35,3045.79 1878.90,3044.45 1885.00,3046.90 C1889.45,3048.69 1891.90,3055.04 1895.10,3055.10 C1897.93,3055.15 1899.92,3049.85 1903.20,3049.00 C1907.11,3047.99 1912.02,3050.51 1917.40,3051.00 C1924.43,3051.64 1935.73,3050.57 1941.80,3052.00 C1945.68,3052.92 1947.66,3055.85 1950.90,3056.10 C1954.39,3056.37 1957.06,3053.68 1962.10,3053.00 C1971.97,3051.66 1998.07,3055.89 2006.70,3053.00 C2010.82,3051.62 2012.16,3046.58 2014.80,3046.90 C2017.95,3047.28 2020.66,3057.47 2024.00,3058.10 C2026.84,3058.63 2029.60,3054.05 2033.10,3053.00 C2037.19,3051.78 2043.40,3053.46 2047.30,3052.00 C2050.59,3050.77 2052.82,3045.39 2055.40,3045.90 C2059.03,3046.62 2062.34,3063.35 2065.60,3063.20 C2069.13,3063.04 2071.37,3043.62 2075.70,3041.90 C2078.65,3040.73 2082.91,3046.62 2085.90,3045.90 C2089.05,3045.15 2090.49,3039.89 2094.00,3036.80 C2098.87,3032.51 2106.87,3028.00 2113.30,3023.60"/>
<path fill="none" stroke="#00ff00" stroke-width="6.5" stroke-linejoin="round" stroke-linecap="butt" d="M354.00,3306.90 C379.40,3302.20 404.60,3298.67 430.20,3292.80 C456.72,3286.72 485.68,3278.31 510.40,3270.80 C532.00,3264.24 550.50,3257.21 570.60,3250.70 C590.64,3244.21 610.79,3238.46 630.80,3231.80 C650.92,3225.10 670.97,3217.81 691.00,3210.60 C711.07,3203.38 735.61,3194.56 751.10,3188.50 C760.99,3184.63 766.33,3182.97 775.20,3178.50 C787.07,3172.51 801.22,3160.76 815.30,3154.40 C829.30,3148.08 844.87,3143.72 859.40,3140.40 C873.08,3137.27 887.01,3137.04 900.00,3134.60 C912.18,3132.31 923.64,3130.55 935.10,3126.40 C947.06,3122.07 959.88,3114.94 970.20,3108.80 C979.00,3103.57 987.93,3098.31 993.60,3092.50 C997.96,3088.03 999.99,3078.16 1002.90,3078.40 C1006.30,3078.68 1009.65,3099.72 1012.30,3099.50 C1015.21,3099.26 1015.17,3077.18 1019.30,3072.60 C1021.78,3069.85 1025.48,3071.46 1028.70,3069.10 C1033.95,3065.25 1040.38,3056.46 1045.10,3048.00 C1050.88,3037.66 1054.65,3023.84 1059.10,3010.60 C1064.03,2995.95 1068.53,2978.25 1073.10,2963.80 C1077.08,2951.23 1081.27,2940.45 1084.80,2928.70 C1088.30,2917.05 1091.46,2905.34 1094.20,2893.60 C1096.92,2881.94 1099.35,2871.75 1101.20,2858.50 C1103.56,2841.54 1104.56,2822.11 1105.90,2800.00 C1107.65,2771.12 1108.65,2733.33 1110.00,2700.00 C1111.35,2666.67 1112.75,2633.33 1114.00,2600.00 C1115.25,2566.67 1116.33,2533.33 1117.50,2500.00 C1118.67,2466.67 1119.92,2433.33 1121.00,2400.00 C1122.08,2366.67 1122.94,2331.47 1124.00,2300.00 C1124.95,2271.85 1125.79,2240.45 1127.00,2220.00 C1127.75,2207.25 1128.75,2188.99 1129.50,2189.00 C1130.25,2189.01 1130.89,2207.26 1131.50,2220.00 C1132.48,2240.46 1133.21,2271.85 1134.00,2300.00 C1134.89,2331.47 1135.75,2366.67 1136.50,2400.00 C1137.25,2433.33 1137.75,2466.67 1138.50,2500.00 C1139.25,2533.33 1140.17,2566.67 1141.00,2600.00 C1141.83,2633.33 1142.34,2670.00 1143.50,2700.00 C1144.45,2724.57 1145.27,2748.61 1147.00,2767.00 C1148.22,2779.96 1150.10,2788.83 1151.50,2800.00 C1152.94,2811.49 1153.59,2825.93 1155.50,2835.00 C1156.75,2840.95 1158.80,2843.87 1160.00,2849.50 C1161.60,2857.01 1161.18,2868.23 1163.20,2876.30 C1164.97,2883.36 1167.71,2890.56 1170.70,2895.50 C1172.93,2899.18 1175.27,2901.95 1178.20,2904.10 C1181.01,2906.16 1184.64,2908.45 1187.80,2908.30 C1191.04,2908.15 1193.73,2904.74 1197.40,2903.00 C1202.02,2900.82 1207.47,2898.31 1213.50,2896.60 C1220.74,2894.55 1232.91,2895.68 1238.10,2892.30 C1241.63,2890.00 1242.62,2885.73 1244.50,2882.70 C1246.13,2880.07 1247.49,2875.08 1248.80,2875.20 C1250.38,2875.34 1251.79,2882.03 1253.00,2887.00 C1254.94,2894.99 1255.70,2918.95 1257.30,2919.00 C1258.62,2919.04 1260.48,2905.48 1261.60,2897.60 C1262.96,2888.04 1260.95,2870.02 1264.30,2865.60 C1265.79,2863.64 1268.34,2864.85 1270.20,2863.40 C1272.88,2861.32 1275.13,2857.15 1277.60,2852.70 C1281.15,2846.31 1285.01,2837.28 1288.30,2828.10 C1292.26,2817.05 1295.60,2803.97 1299.00,2790.70 C1302.81,2775.82 1307.30,2758.33 1309.80,2743.00 C1312.08,2728.99 1312.55,2715.93 1313.90,2702.40 C1315.25,2688.87 1316.63,2675.34 1317.90,2661.80 C1319.17,2648.27 1320.40,2634.74 1321.50,2621.20 C1322.60,2607.67 1323.48,2594.13 1324.50,2580.60 C1325.52,2567.07 1326.78,2553.41 1327.60,2540.00 C1328.40,2526.85 1328.60,2515.66 1329.40,2500.90 C1330.45,2481.59 1332.07,2456.37 1333.60,2434.10 C1335.13,2411.80 1336.93,2389.49 1338.60,2367.20 C1340.27,2344.92 1341.02,2319.90 1343.60,2300.40 C1345.63,2285.01 1348.62,2259.44 1351.40,2259.40 C1354.19,2259.36 1357.86,2285.00 1360.30,2300.40 C1363.38,2319.89 1364.64,2344.93 1367.00,2367.20 C1369.37,2389.50 1372.13,2411.80 1374.50,2434.10 C1376.86,2456.37 1379.56,2481.59 1381.20,2500.90 C1382.45,2515.66 1382.88,2526.85 1383.90,2540.00 C1384.94,2553.41 1386.13,2567.07 1387.40,2580.60 C1388.67,2594.14 1390.13,2607.67 1391.50,2621.20 C1392.87,2634.73 1394.17,2648.27 1395.60,2661.80 C1397.03,2675.34 1398.58,2688.87 1400.10,2702.40 C1401.62,2715.93 1403.40,2729.77 1404.70,2743.00 C1405.94,2755.61 1406.19,2767.96 1407.80,2780.00 C1409.36,2791.64 1411.92,2802.74 1414.10,2814.10 C1416.28,2825.47 1418.63,2836.83 1420.90,2848.20 C1423.17,2859.57 1425.04,2871.75 1427.70,2882.30 C1430.06,2891.64 1432.53,2900.22 1435.70,2908.40 C1438.66,2916.05 1442.08,2923.51 1445.90,2930.00 C1449.36,2935.88 1453.06,2941.11 1457.30,2945.90 C1461.42,2950.55 1466.34,2955.26 1470.90,2958.40 C1474.68,2961.01 1478.76,2963.52 1482.30,2964.10 C1485.10,2964.56 1488.43,2962.12 1490.20,2963.00 C1491.65,2963.72 1491.86,2965.58 1492.80,2967.70 C1494.55,2971.65 1496.58,2985.19 1498.80,2985.30 C1500.90,2985.40 1502.78,2970.80 1505.70,2970.10 C1507.99,2969.55 1510.60,2975.16 1513.70,2976.50 C1516.96,2977.91 1521.33,2978.28 1524.90,2978.10 C1528.24,2977.93 1531.77,2974.60 1534.50,2975.70 C1537.88,2977.06 1539.69,2988.49 1542.50,2988.50 C1545.57,2988.51 1549.04,2973.56 1552.20,2973.30 C1554.64,2973.10 1556.69,2980.88 1559.40,2981.30 C1562.04,2981.70 1564.16,2976.97 1568.20,2976.10 C1575.37,2974.55 1588.95,2978.14 1600.20,2979.60 C1612.83,2981.23 1627.91,2983.62 1640.30,2985.60 C1651.03,2987.32 1660.44,2989.51 1670.30,2990.70 C1679.79,2991.84 1691.68,2990.07 1698.40,2992.70 C1702.93,2994.47 1705.13,3000.35 1708.40,3000.70 C1711.15,3001.00 1712.99,2997.15 1716.50,2996.70 C1722.29,2995.96 1731.79,3000.03 1740.50,3001.70 C1750.86,3003.69 1767.08,3004.69 1774.60,3007.70 C1778.80,3009.38 1780.67,3013.90 1783.60,3013.70 C1786.71,3013.49 1789.64,3005.47 1792.70,3005.70 C1796.33,3005.97 1800.14,3018.55 1803.70,3018.70 C1806.78,3018.83 1808.43,3010.89 1812.70,3009.70 C1819.07,3007.92 1831.79,3014.59 1840.30,3016.50 C1847.57,3018.13 1853.49,3019.59 1860.60,3020.60 C1868.33,3021.69 1878.85,3020.37 1885.00,3022.60 C1889.37,3024.18 1891.94,3029.75 1895.10,3029.70 C1897.97,3029.65 1899.93,3024.33 1903.20,3023.60 C1907.11,3022.73 1912.00,3025.91 1917.40,3026.60 C1924.41,3027.49 1935.77,3026.01 1941.80,3027.70 C1945.73,3028.80 1947.65,3032.44 1950.90,3032.70 C1954.38,3032.98 1956.91,3029.60 1962.10,3028.70 C1972.81,3026.85 2002.14,3026.43 2012.80,3028.70 C2018.04,3029.82 2020.65,3034.32 2024.00,3033.70 C2027.43,3033.07 2029.70,3025.45 2033.10,3024.60 C2036.20,3023.83 2040.00,3028.11 2043.30,3027.70 C2046.77,3027.27 2050.15,3020.97 2053.40,3021.60 C2057.66,3022.42 2062.27,3038.27 2065.60,3037.80 C2069.13,3037.30 2069.45,3018.51 2073.70,3016.50 C2076.89,3014.99 2082.58,3021.74 2085.90,3020.60 C2089.45,3019.38 2090.78,3011.69 2094.00,3008.40 C2096.96,3005.37 2100.81,3003.22 2104.20,3001.30 C2107.24,2999.58 2110.27,2998.57 2113.30,2997.20"/>
<path fill="none" stroke="#0000ff" stroke-width="6.5" stroke-linejoin="round" stroke-linecap="butt" d="M354.00,3302.80 C379.40,3298.13 404.60,3294.67 430.20,3288.80 C456.72,3282.72 485.67,3274.21 510.40,3266.70 C531.99,3260.14 550.54,3253.38 570.60,3246.70 C590.67,3240.02 610.78,3233.60 630.80,3226.60 C650.92,3219.57 670.95,3211.95 691.00,3204.60 C711.05,3197.25 734.43,3190.18 751.10,3182.50 C763.73,3176.68 772.58,3170.80 783.20,3164.50 C793.98,3158.11 804.00,3150.06 815.30,3144.40 C826.72,3138.67 841.03,3133.74 851.40,3130.40 C858.99,3127.95 864.17,3126.59 871.50,3125.20 C880.12,3123.56 891.02,3123.36 900.00,3121.70 C908.23,3120.18 915.69,3118.39 923.40,3115.90 C931.29,3113.35 939.15,3110.30 946.80,3106.50 C954.76,3102.55 962.58,3097.80 970.20,3092.50 C978.20,3086.94 987.51,3080.35 993.60,3073.70 C998.70,3068.13 1002.08,3055.95 1005.30,3056.20 C1008.17,3056.43 1010.44,3071.63 1012.30,3071.40 C1014.58,3071.12 1013.16,3052.57 1017.00,3046.80 C1020.14,3042.07 1026.46,3041.05 1031.00,3037.50 C1035.84,3033.71 1040.92,3029.62 1045.10,3024.60 C1049.60,3019.20 1053.41,3013.87 1056.80,3005.90 C1061.81,2994.11 1064.50,2974.26 1068.50,2959.10 C1072.31,2944.67 1076.37,2929.58 1080.20,2917.00 C1083.35,2906.65 1086.81,2898.52 1089.50,2888.90 C1092.26,2879.03 1094.54,2869.44 1096.50,2858.50 C1098.76,2845.90 1100.27,2831.87 1101.80,2817.50 C1103.49,2801.65 1104.81,2785.32 1106.00,2767.40 C1107.38,2746.72 1108.33,2722.79 1109.30,2700.50 C1110.27,2678.23 1110.97,2655.98 1111.80,2633.70 C1112.63,2611.41 1113.47,2589.09 1114.30,2566.80 C1115.13,2544.52 1115.95,2524.51 1116.80,2500.00 C1117.84,2470.02 1119.05,2433.33 1120.00,2400.00 C1120.95,2366.67 1121.67,2333.33 1122.50,2300.00 C1123.33,2266.67 1124.30,2227.61 1125.00,2200.00 C1125.50,2180.47 1125.32,2163.56 1126.30,2150.00 C1126.97,2140.66 1128.15,2126.40 1129.10,2126.40 C1130.05,2126.40 1131.24,2140.66 1132.00,2150.00 C1133.10,2163.56 1133.32,2180.47 1134.00,2200.00 C1134.97,2227.61 1136.17,2266.66 1137.00,2300.00 C1137.83,2333.33 1138.32,2366.67 1139.00,2400.00 C1139.68,2433.33 1140.22,2470.02 1141.10,2500.00 C1141.82,2524.51 1142.77,2544.52 1143.60,2566.80 C1144.43,2589.09 1145.13,2611.41 1146.10,2633.70 C1147.07,2655.98 1148.02,2678.23 1149.40,2700.50 C1150.78,2722.80 1152.30,2748.08 1154.40,2767.40 C1156.01,2782.26 1158.45,2794.84 1160.00,2806.70 C1161.28,2816.48 1161.46,2825.79 1163.20,2833.50 C1164.58,2839.60 1166.26,2844.84 1168.60,2849.50 C1170.65,2853.59 1172.90,2857.50 1176.00,2860.20 C1178.98,2862.80 1183.25,2865.96 1186.70,2865.60 C1190.40,2865.21 1193.74,2859.55 1197.40,2857.00 C1200.88,2854.57 1204.21,2852.50 1208.10,2850.60 C1212.35,2848.52 1217.00,2846.74 1222.00,2845.20 C1227.60,2843.48 1236.44,2843.37 1240.20,2841.00 C1242.49,2839.56 1243.21,2837.82 1244.50,2835.60 C1246.17,2832.73 1247.15,2825.13 1248.80,2824.90 C1250.07,2824.72 1251.83,2827.50 1253.00,2830.30 C1255.58,2836.48 1255.86,2863.39 1257.30,2863.40 C1258.56,2863.41 1260.20,2846.36 1261.10,2837.80 C1262.00,2829.26 1260.22,2815.82 1262.70,2812.10 C1263.77,2810.50 1265.55,2810.16 1267.00,2810.00 C1268.38,2809.85 1269.78,2811.67 1271.20,2811.00 C1274.51,2809.43 1278.16,2797.01 1281.40,2789.80 C1284.70,2782.48 1287.68,2775.74 1290.80,2767.40 C1294.62,2757.18 1299.23,2744.05 1302.20,2732.80 C1304.94,2722.42 1306.54,2713.30 1308.30,2702.40 C1310.32,2689.88 1311.87,2675.35 1313.30,2661.80 C1314.73,2648.28 1315.88,2634.74 1316.90,2621.20 C1317.92,2607.67 1318.47,2594.13 1319.40,2580.60 C1320.33,2567.06 1321.82,2553.41 1322.50,2540.00 C1323.17,2526.85 1322.85,2515.66 1323.50,2500.90 C1324.35,2481.59 1326.30,2456.38 1327.70,2434.10 C1329.10,2411.81 1330.50,2389.49 1331.90,2367.20 C1333.30,2344.92 1334.72,2322.67 1336.10,2300.40 C1337.48,2278.13 1338.52,2254.26 1340.20,2233.60 C1341.66,2215.66 1342.81,2196.67 1345.30,2183.40 C1346.98,2174.46 1349.32,2161.31 1351.40,2161.30 C1353.49,2161.29 1355.85,2174.46 1357.80,2183.40 C1360.70,2196.67 1362.83,2215.66 1365.30,2233.60 C1368.14,2254.26 1371.20,2278.12 1373.70,2300.40 C1376.20,2322.65 1378.08,2344.93 1380.30,2367.20 C1382.52,2389.49 1384.90,2411.80 1387.00,2434.10 C1389.10,2456.37 1391.38,2481.59 1392.90,2500.90 C1394.06,2515.66 1394.50,2526.85 1395.60,2540.00 C1396.72,2553.41 1398.25,2567.07 1399.60,2580.60 C1400.95,2594.13 1402.52,2607.66 1403.70,2621.20 C1404.88,2634.73 1405.35,2648.28 1406.70,2661.80 C1408.05,2675.35 1409.94,2688.88 1411.80,2702.40 C1413.67,2715.94 1415.77,2729.79 1417.90,2743.00 C1419.94,2755.63 1422.10,2770.08 1424.30,2780.00 C1425.80,2786.80 1427.29,2791.07 1428.90,2797.00 C1430.67,2803.51 1431.96,2811.12 1434.50,2817.50 C1436.92,2823.58 1440.25,2829.26 1443.60,2834.50 C1446.76,2839.44 1450.06,2844.49 1453.90,2848.20 C1457.34,2851.52 1460.86,2853.92 1465.20,2856.10 C1470.16,2858.59 1477.45,2861.47 1482.30,2861.80 C1485.77,2862.04 1488.97,2858.71 1491.40,2860.10 C1494.97,2862.14 1495.59,2878.73 1498.20,2878.90 C1500.71,2879.06 1503.38,2863.13 1506.70,2862.50 C1509.36,2862.00 1511.69,2868.71 1515.60,2870.30 C1520.70,2872.38 1531.39,2868.85 1535.70,2871.40 C1538.83,2873.25 1538.98,2880.20 1541.30,2880.40 C1544.17,2880.64 1548.05,2869.85 1552.00,2868.30 C1555.13,2867.07 1559.31,2870.16 1562.10,2869.30 C1564.55,2868.55 1565.02,2865.44 1568.10,2864.30 C1574.35,2861.99 1588.92,2863.41 1600.20,2863.90 C1612.84,2864.45 1628.43,2865.92 1640.30,2867.90 C1649.96,2869.51 1657.74,2873.14 1666.30,2874.00 C1674.43,2874.82 1683.51,2875.71 1690.40,2873.30 C1696.68,2871.11 1702.90,2866.16 1706.40,2861.30 C1709.51,2856.98 1709.51,2851.51 1711.40,2846.30 C1713.49,2840.52 1715.63,2828.63 1718.50,2828.20 C1720.83,2827.85 1724.17,2833.87 1726.50,2838.30 C1729.88,2844.73 1731.59,2856.49 1734.50,2864.30 C1736.99,2870.96 1738.61,2877.64 1742.50,2882.40 C1746.13,2886.85 1751.23,2889.93 1756.60,2892.40 C1762.47,2895.10 1771.92,2894.54 1776.60,2897.40 C1779.96,2899.45 1780.84,2904.96 1783.60,2905.40 C1786.50,2905.86 1790.59,2898.80 1793.70,2899.40 C1797.39,2900.11 1800.33,2912.28 1803.70,2912.50 C1806.67,2912.69 1809.22,2904.10 1812.70,2903.40 C1816.21,2902.70 1820.39,2906.87 1824.70,2908.40 C1829.52,2910.11 1834.76,2911.35 1840.30,2913.00 C1846.62,2914.88 1853.45,2917.75 1860.60,2919.10 C1868.29,2920.55 1878.90,2918.67 1885.00,2921.10 C1889.44,2922.87 1891.90,2929.15 1895.10,2929.20 C1897.93,2929.24 1900.22,2923.49 1903.20,2923.10 C1906.30,2922.69 1909.12,2926.12 1913.40,2927.20 C1920.04,2928.88 1933.14,2927.98 1939.70,2930.20 C1944.09,2931.69 1946.79,2936.58 1949.90,2936.30 C1952.86,2936.03 1954.22,2930.62 1958.00,2929.20 C1963.69,2927.06 1975.83,2930.76 1982.40,2929.20 C1987.30,2928.03 1990.96,2925.79 1994.50,2923.10 C1998.06,2920.40 2001.39,2917.25 2003.70,2913.00 C2006.50,2907.86 2007.38,2900.91 2008.80,2893.70 C2010.56,2884.76 2011.54,2874.18 2012.80,2863.30 C2014.26,2850.75 2015.55,2836.23 2016.90,2822.70 C2018.25,2809.17 2019.28,2793.61 2020.90,2782.10 C2022.11,2773.50 2022.97,2763.57 2025.00,2759.70 C2025.88,2758.03 2027.04,2756.52 2028.00,2756.70 C2029.47,2756.97 2030.96,2761.63 2032.10,2765.80 C2034.29,2773.81 2034.81,2789.20 2036.20,2802.40 C2037.83,2817.92 2039.41,2837.15 2041.20,2853.10 C2042.80,2867.40 2043.78,2884.23 2046.30,2893.70 C2047.73,2899.08 2049.37,2902.36 2051.40,2905.90 C2053.18,2909.00 2055.57,2910.45 2057.50,2914.00 C2060.45,2919.44 2062.91,2936.14 2065.60,2936.30 C2067.64,2936.42 2069.73,2927.85 2071.70,2924.10 C2073.42,2920.83 2074.52,2915.32 2076.70,2915.00 C2079.13,2914.65 2083.05,2924.33 2085.90,2924.10 C2088.83,2923.86 2090.76,2915.74 2094.00,2913.00 C2096.95,2910.50 2101.10,2910.26 2104.20,2907.90 C2107.59,2905.32 2110.27,2901.17 2113.30,2897.80"/>
<text transform="translate(2031.30,2077.90)" font-size="83" font-weight="bold">b</text>
<text transform="translate(915.90,3498.20) scale(1.0000,1.0400)" font-size="65.48">Scattering vector q, nm</text>
<text transform="translate(1589.30,3463.00) scale(1.0000,1.0400)" font-size="39.1">-1</text>
<text transform="translate(95.00,2860.90) rotate(-90) scale(1.0000,1.0330)" font-size="66.0">Intensity, a.u.</text>
<text transform="translate(1868.80,2902.80)" font-size="41" fill="#0000ff">4</text>
<text transform="translate(1866.10,2990.70)" font-size="41" fill="#00ff00">3</text>
<text transform="translate(1648.25,3156.20)" font-size="41" fill="#ff0000">2</text>
<text transform="translate(1881.40,3171.50)" font-size="40" fill="#000">1</text>
<text transform="translate(1147.40,3160.10) scale(1.0000,1.0800)" font-size="40.5">Laccase</text>
<line x1="1161.9" y1="3183.6" x2="1116.5" y2="3222.3" stroke="#000" stroke-width="3"/>
<line x1="1799.7" y1="3044.8" x2="1686.4" y2="3107.3" stroke="#ff0000" stroke-width="3"/>
</svg>
</body></html>
